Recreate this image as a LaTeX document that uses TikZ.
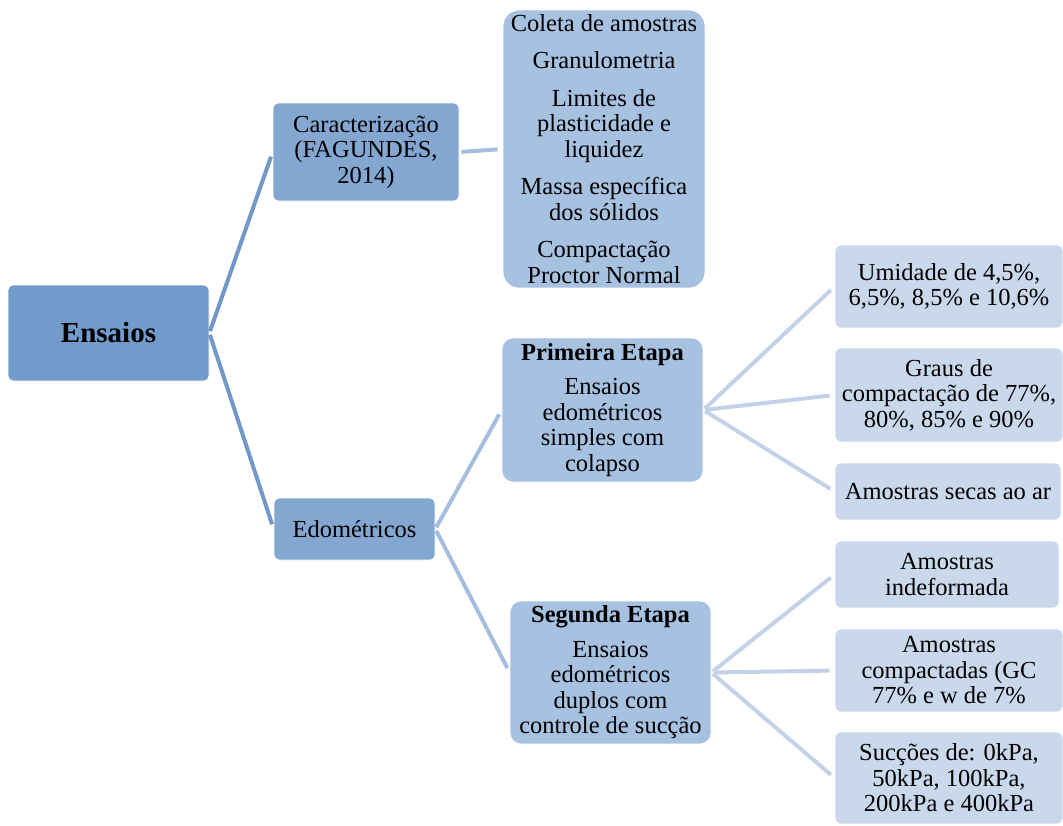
\documentclass[tikz,border=0pt]{standalone}
\usepackage{fontspec}
\setmainfont{Liberation Serif}
\definecolor{ensC}{HTML}{729BCB}
\definecolor{carC}{HTML}{84A7D1}
\definecolor{lvtwoC}{HTML}{A7C1E0}
\definecolor{lvthreeC}{HTML}{C9D8EB}
\definecolor{connA}{HTML}{7297C9}
\definecolor{connB}{HTML}{A6BDDD}
\definecolor{connC}{HTML}{C4D2E7}
\tikzset{
  box/.style={rectangle, draw=white, line width=0.75pt, inner sep=0pt, align=center,
    font=\fontsize{24.5}{25.5}\selectfont, text=black},
  rootbox/.style={box, fill=ensC, rounded corners=5pt, font=\fontsize{29}{30}\selectfont\bfseries},
  catbox/.style={box, fill=carC, rounded corners=5pt},
  stagebox/.style={box, fill=lvtwoC, rounded corners=11pt},
  listbox/.style={box, fill=lvtwoC, rounded corners=16pt},
  leafbox/.style={box, fill=lvthreeC, rounded corners=6pt},
  linkA/.style={draw=connA, line width=4pt, shorten <=2pt, shorten >=5pt},
  linkB/.style={draw=connB, line width=4pt, shorten <=2pt, shorten >=5pt},
  linkC/.style={draw=connC, line width=4pt, shorten <=2pt, shorten >=5pt},
}
\begin{document}
\begin{tikzpicture}[x=1pt,y=-1pt]
\useasboundingbox (0,0) rectangle (1063,825);
\clip (0,0) rectangle (1063,825);
% level 1 connectors first
\node[rootbox, minimum width=201pt, minimum height=96pt] (ens) at (108.5,333) {Ensaios};
\node[catbox, minimum width=186pt, minimum height=98pt] (car) at (366,152) {Caracteriza\c{c}\~ao\\(FAGUNDES,\\2014)};
\node[catbox, minimum width=161pt, minimum height=62pt] (edo) at (354.5,529) {Edom\'etricos};
\node[listbox, minimum width=202pt, minimum height=278pt] (lst) at (604,149)
  {Coleta de amostras\\[12pt]Granulometria\\[12pt]Limites de\\plasticidade e\\liquidez\\[12pt]Massa espec\'ifica\\dos s\'olidos\\[12pt]Compacta\c{c}\~ao\\Proctor Normal};
\node[stagebox, minimum width=201pt, minimum height=144pt] (pri) at (602.5,410)
  {\textbf{Primeira Etapa}\\[9pt]Ensaios\\edom\'etricos\\simples com\\colapso};
\node[stagebox, minimum width=201pt, minimum height=143pt] (seg) at (610.5,672.5)
  {\textbf{Segunda Etapa}\\[9pt]Ensaios\\edom\'etricos\\duplos com\\controle de suc\c{c}\~ao};
\node[leafbox, minimum width=228pt, minimum height=83pt] (uA) at (949,286.5) {Umidade de 4,5\%,\\6,5\%, 8,5\% e 10,6\%};
\node[leafbox, minimum width=228pt, minimum height=94pt] (uB) at (949,395) {Graus de\\compacta\c{c}\~ao de 77\%,\\80\%, 85\% e 90\%};
\node[leafbox, minimum width=226pt, minimum height=57pt] (uC) at (948,491.5) {Amostras secas ao ar};
\node[leafbox, minimum width=224pt, minimum height=67pt] (sA) at (947,574.5) {Amostras\\indeformada};
\node[leafbox, minimum width=228pt, minimum height=83pt] (sB) at (949,670.5) {Amostras\\compactadas (GC\\77\% e w de 7\%};
\node[leafbox, minimum width=228pt, minimum height=92pt] (sC) at (949,778) {Suc\c{c}\~oes de: 0kPa,\\50kPa, 100kPa,\\200kPa e 400kPa};
% connectors
\draw[linkA] (ens.east) -- (car.west);
\draw[linkA] (ens.east) -- (edo.west);
\draw[linkB] (car.east) -- (lst.west);
\draw[linkB] (edo.east) -- (pri.west);
\draw[linkB] (edo.east) -- (seg.west);
\draw[linkC] (pri.east) -- (uA.west);
\draw[linkC] (pri.east) -- (uB.west);
\draw[linkC] (pri.east) -- (uC.west);
\draw[linkC] (seg.east) -- (sA.west);
\draw[linkC] (seg.east) -- (sB.west);
\draw[linkC] (seg.east) -- (sC.west);
\end{tikzpicture}
\end{document}
